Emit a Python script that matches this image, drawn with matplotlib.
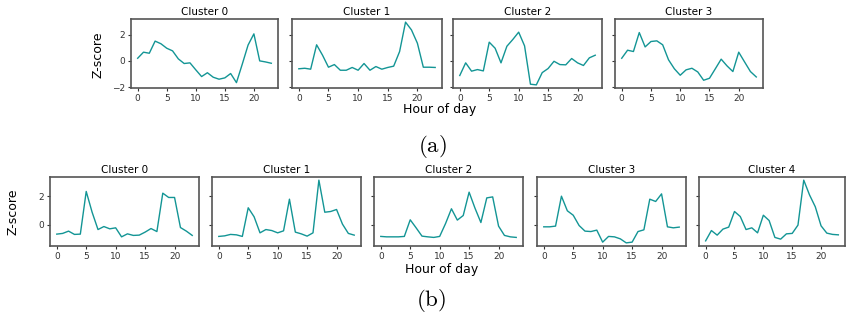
import matplotlib.pyplot as plt

hours = list(range(24))

# (a) four clusters
top_c0 = [0.2, 0.66, 0.58, 1.5, 1.3, 0.96, 0.76, 0.15, -0.2, -0.15, -0.68, -1.19,
          -0.9, -1.24, -1.39, -1.29, -0.96, -1.65, -0.25, 1.2, 2.05, 0.0, -0.08, -0.18]
top_c1 = [-0.6, -0.56, -0.63, 1.22, 0.43, -0.48, -0.28, -0.71, -0.71, -0.5, -0.71, -0.2,
          -0.71, -0.43, -0.63, -0.5, -0.4, 0.71, 2.94, 2.35, 1.34, -0.48, -0.48, -0.5]
top_c2 = [-1.11, -0.15, -0.78, -0.66, -0.76, 1.42, 0.96, -0.15, 1.11, 1.62, 2.18, 1.14,
          -1.77, -1.82, -0.89, -0.58, -0.03, -0.28, -0.3, 0.18, -0.15, -0.35, 0.23, 0.43]
top_c3 = [0.2, 0.81, 0.71, 2.15, 1.06, 1.47, 1.52, 1.22, 0.08, -0.6, -1.09, -0.68,
          -0.56, -0.84, -1.47, -1.32, -0.6, 0.13, -0.38, -0.81, 0.66, -0.08, -0.81, -1.22]

# (b) five clusters
bot_c0 = [-0.65, -0.6, -0.44, -0.67, -0.65, 2.33, 0.88, -0.33, -0.12, -0.28, -0.21, -0.84,
          -0.63, -0.74, -0.72, -0.51, -0.26, -0.47, 2.21, 1.91, 1.91, -0.19, -0.44, -0.74]
bot_c1 = [-0.81, -0.77, -0.67, -0.7, -0.81, 1.19, 0.56, -0.56, -0.33, -0.4, -0.56, -0.42,
          1.79, -0.51, -0.63, -0.79, -0.56, 3.12, 0.88, 0.93, 1.07, 0.05, -0.6, -0.72]
bot_c2 = [-0.81, -0.84, -0.84, -0.84, -0.81, 0.35, -0.21, -0.79, -0.84, -0.88, -0.81, 0.09,
          1.12, 0.33, 0.65, 2.28, 1.16, 0.16, 1.88, 1.95, -0.09, -0.74, -0.84, -0.88]
bot_c3 = [-0.14, -0.14, -0.09, 2.0, 0.98, 0.67, -0.05, -0.44, -0.47, -0.37, -1.21, -0.81,
          -0.84, -0.98, -1.26, -1.21, -0.47, -0.35, 1.79, 1.63, 2.16, -0.14, -0.21, -0.16]
bot_c4 = [-1.12, -0.4, -0.72, -0.3, -0.16, 0.93, 0.58, -0.33, -0.21, -0.56, 0.67, 0.3,
          -0.88, -1.0, -0.63, -0.6, -0.02, 3.12, 2.09, 1.26, -0.07, -0.58, -0.67, -0.7]

top_series = [top_c0, top_c1, top_c2, top_c3]
bot_series = [bot_c0, bot_c1, bot_c2, bot_c3, bot_c4]

W, H = 847, 322
line_color = "#139595"
plt.rcParams["mathtext.fontset"] = "cm"
fig = plt.figure(figsize=(W / 100, H / 100), dpi=100)


def px_axes(x0, y0, x1, y1, sharey=None):
    # pixel box (top-left origin) -> figure fraction
    return fig.add_axes([x0 / W, 1 - y1 / H, (x1 - x0) / W, (y1 - y0) / H], sharey=sharey)


def style(ax, first):
    for s in ax.spines.values():
        s.set_color("#555555")
        s.set_linewidth(1.2)
    ax.tick_params(labelsize=6.5, colors="#333333", length=2.5, pad=2)
    ax.set_xticks([0, 5, 10, 15, 20])
    if not first:
        ax.tick_params(axis="y", labelleft=False)


top_boxes = [(131, 278), (292, 442), (453, 602), (615, 763)]
ax0 = None
for i, (vals, (xa, xb)) in enumerate(zip(top_series, top_boxes)):
    ax = px_axes(xa, 19, xb, 88, sharey=ax0)
    if ax0 is None:
        ax0 = ax
    ax.plot(hours, vals, color=line_color, linewidth=1)
    ax.set_title("Cluster %d" % i, fontsize=7.5, pad=3)
    style(ax, i == 0)
ax0.set_yticks([-2, 0, 2])

bot_boxes = [(50, 199), (212, 361), (374, 523), (537, 686), (699, 845)]
bx0 = None
for i, (vals, (xa, xb)) in enumerate(zip(bot_series, bot_boxes)):
    ax = px_axes(xa, 177, xb, 246, sharey=bx0)
    if bx0 is None:
        bx0 = ax
    ax.plot(hours, vals, color=line_color, linewidth=1)
    ax.set_title("Cluster %d" % i, fontsize=7.5, pad=3)
    style(ax, i == 0)
bx0.set_yticks([0, 2])

# axis labels
fig.text(98 / W, 1 - 55 / H, "Z-score", rotation=90, fontsize=9, ha="center", va="center")
fig.text(440 / W, 1 - 110 / H, "Hour of day", fontsize=9, ha="center", va="center")
fig.text(13 / W, 1 - 212 / H, "Z-score", rotation=90, fontsize=9, ha="center", va="center")
fig.text(442 / W, 1 - 269 / H, "Hour of day", fontsize=9, ha="center", va="center")

# sub-figure tags
fig.text(432 / W, 1 - 147 / H, r"$\mathrm{(a)}$", fontsize=16.5, ha="center", va="center")
fig.text(431 / W, 1 - 301 / H, r"$\mathrm{(b)}$", fontsize=16.5, ha="center", va="center")

fig.savefig("out.png", dpi=100)
